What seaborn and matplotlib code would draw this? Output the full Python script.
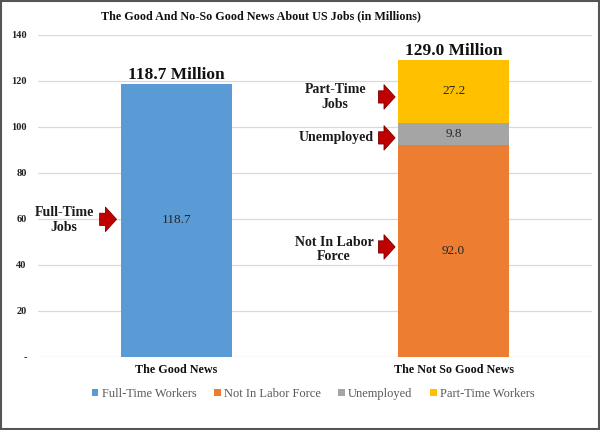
import matplotlib
matplotlib.use("Agg")
import matplotlib.pyplot as plt
import seaborn as sns
import pandas as pd
import numpy as np
from matplotlib.patches import Rectangle, Patch

categories = ["The Good News", "The Not So Good News"]
series = ["Full-Time Workers", "Not In Labor Force", "Unemployed", "Part-Time Workers"]
full_time = [118.7, 0.0]
not_in_labor = [0.0, 92.0]
unemployed = [0.0, 9.8]
part_time = [0.0, 27.2]
totals_labels = ["118.7 Million", "129.0 Million"]
yticks = [0, 20, 40, 60, 80, 100, 120, 140]
ytick_labels = ["-", "20", "40", "60", "80", "100", "120", "140"]
colors = ["#5B9BD5", "#ED7D31", "#A5A5A5", "#FFC000"]

sns.set_theme(style="white")
plt.rcParams["font.family"] = ["Liberation Serif", "DejaVu Serif"]

fig = plt.figure(figsize=(6, 4.3), dpi=100)
ax = fig.add_axes([0.063, 0.170, 0.924, 0.749])

values = [full_time, not_in_labor, unemployed, part_time]
bottom = np.zeros(len(categories))
for name, vals, col in zip(series, values, colors):
    df = pd.DataFrame({"cat": categories, "val": vals})
    sns.barplot(data=df, x="cat", y="val", order=categories, color=col,
                width=0.4, bottom=bottom.copy(), ax=ax, saturation=1,
                errorbar=None, linewidth=0, zorder=3)
    for i, v in enumerate(vals):
        if v > 0:
            ax.text(i, bottom[i] + v / 2, f"{v:.1f}", ha="center", va="center",
                    fontsize=9.5, color="#262626", zorder=5)
    bottom = bottom + np.array(vals)

for i, lab in enumerate(totals_labels):
    ax.text(i, bottom[i] + 0.4, lab, ha="center", va="bottom", fontsize=12.5,
            fontweight="bold", color="#111111", zorder=5)

ax.set_xlim(-0.5, 1.5)
ax.set_ylim(0, 140)
ax.set_yticks(yticks)
ax.set_yticklabels(ytick_labels, fontsize=7.5, fontweight="bold", color="#222222")
ax.tick_params(axis="y", length=0, pad=8)
ax.tick_params(axis="x", length=0, pad=5)
ax.set_xticks(range(len(categories)))
ax.set_xticklabels(categories, fontsize=8.7, fontweight="bold", color="#111111")
ax.set_xlabel("")
ax.set_ylabel("")
ax.yaxis.grid(True, color="#D9D9D9", linewidth=0.9, zorder=0)
ax.set_axisbelow(True)
for s in ax.spines.values():
    s.set_visible(False)

# annotations with red arrows: (text, text x, text y, arrow y, arrow tail x, arrow tip x)
notes = [
    ("Full-Time\nJobs", -0.405, 59.6, 59.8, -0.277, -0.216),
    ("Part-Time\nJobs", 0.573, 113.0, 113.0, 0.729, 0.789),
    ("Unemployed", 0.576, 95.2, 95.2, 0.729, 0.789),
    ("Not In Labor\nForce", 0.569, 46.7, 47.8, 0.729, 0.789),
]
for txt, tx, ty, ay, ax0, ax1 in notes:
    ax.text(tx, ty, txt, ha="center", va="center", fontsize=10,
            fontweight="bold", color="#1a1a1a", linespacing=1.15, zorder=5)
    ax.annotate("", xy=(ax1, ay), xytext=(ax0, ay),
                arrowprops=dict(arrowstyle="simple,head_length=0.5,head_width=1.1,tail_width=0.55",
                                mutation_scale=16, shrinkA=0, shrinkB=0,
                                fc="#C00000", ec="#7A0000", lw=0.6), zorder=6)

handles = [Patch(facecolor=c, edgecolor="none") for c in colors]
fig.legend(handles, series, loc="center", bbox_to_anchor=(0.522, 0.084), ncol=4,
           frameon=False, fontsize=9, handlelength=0.55, handleheight=0.55,
           handletextpad=0.25, columnspacing=1.4, labelcolor="#595959")

fig.text(261 / 600, 1 - 16 / 430, "The Good And No-So Good News About US Jobs (in Millions)",
         ha="center", va="center", fontsize=8.7, fontweight="bold", color="#111111")

fig.add_artist(Rectangle((0.002, 0.002), 0.996, 0.996, transform=fig.transFigure,
                         fill=False, edgecolor="#555555", linewidth=1.5))

fig.savefig("out.png", dpi=100)
